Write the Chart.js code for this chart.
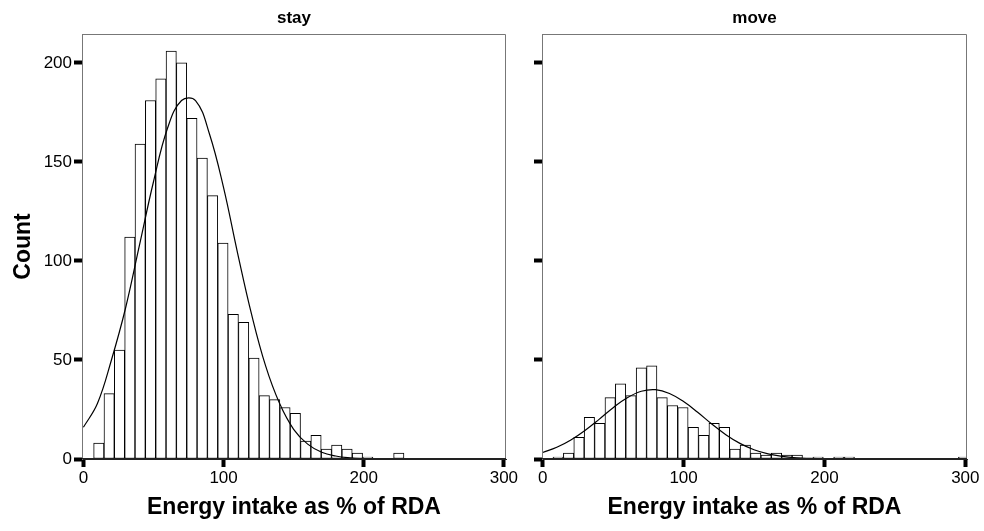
<!DOCTYPE html>
<html>
<head>
<meta charset="utf-8">
<script src="https://cdn.jsdelivr.net/npm/chart.js@4.4.1/dist/chart.umd.min.js"></script>
<style>
    body { margin: 0; background: #fff; width: 984px; height: 531px; overflow: hidden; position: relative; }
    .panel { position: absolute; top: 0; height: 531px; }
    #left { left: 0; width: 520px; }
    #right { left: 520px; width: 464px; }
</style>
</head>
<body>
<div class="panel" id="left"><canvas id="stayChart" width="520" height="531"></canvas></div>
<div class="panel" id="right"><canvas id="moveChart" width="464" height="531"></canvas></div>
<script>
// Histogram bins of energy intake (% of RDA)
const binStart = 7.3;
const binWidth = 7.38;
const stayCounts = [8, 33, 55, 112, 159, 181, 192, 206, 200, 172, 152, 133, 109, 73, 69, 51, 32, 30, 26, 23, 9, 12, 5, 7, 5, 3, 1, 0, 0, 3];
const moveCounts = [1, 3, 11, 21, 18, 31, 38, 32, 46, 47, 31, 27, 26, 16, 12, 18, 16, 5, 7, 3, 2, 3, 2, 2, 0, 1, 0, 1, 1, 0, 0, 0, 0, 0, 0, 0, 0, 0, 0, 1];

// Normal curves, every 10 units
const curveX = [0, 10, 20, 30, 40, 50, 60, 70, 80, 90, 100, 110, 120, 130, 140, 150, 160, 170, 180, 190, 200, 210, 220, 230, 240, 250, 260, 270, 280, 290, 300];
const stayCurve = [16, 28, 50, 76, 108, 140, 167, 181, 181, 164, 137, 104, 73, 47, 28, 15, 7.5, 3.4, 1.5, 0.6, 0.2, 0, 0, 0, 0, 0, 0, 0, 0, 0, 0];
const moveCurve = [3.3, 5.9, 9.6, 14.4, 20, 25.9, 30.9, 34.2, 35, 33.1, 29, 23.6, 17.7, 12.3, 7.9, 4.7, 2.6, 1.3, 0.6, 0.3, 0.1, 0, 0, 0, 0, 0, 0, 0, 0, 0, 0];

const xTicks = [0, 100, 200, 300];
const yTicks = [0, 50, 100, 150, 200];

const FONT = '"Liberation Sans", Arial, Helvetica, sans-serif';

// Draws the grey frame round the plot and the panel title
const framePlugin = {
    id: 'frame',
    afterDraw(chart, args, opts) {
        const { ctx, chartArea: a } = chart;
        ctx.save();
        ctx.strokeStyle = '#777';
        ctx.lineWidth = 1;
        ctx.beginPath();
        ctx.moveTo(a.left + 0.5, a.bottom);
        ctx.lineTo(a.left + 0.5, a.top + 0.5);
        ctx.lineTo(a.right - 0.5, a.top + 0.5);
        ctx.lineTo(a.right - 0.5, a.bottom);
        ctx.stroke();
        ctx.strokeStyle = '#222';
        ctx.beginPath();
        ctx.moveTo(a.left, a.bottom - 0.5);
        ctx.lineTo(a.right, a.bottom - 0.5);
        ctx.stroke();
        ctx.fillStyle = '#000';
        ctx.font = 'bold 17px ' + FONT;
        ctx.textAlign = 'center';
        ctx.textBaseline = 'middle';
        ctx.fillText(opts.text, (a.left + a.right) / 2, 18);
        ctx.restore();
    }
};

function makePanel(canvasId, title, counts, curve, cfg) {
    const bars = counts.map((c, i) => ({ x: binStart + binWidth * (i + 0.5), y: c }));
    const line = curveX.map((x, i) => ({ x: x, y: curve[i] }));

    const ctx = document.getElementById(canvasId).getContext('2d');
    return new Chart(ctx, {
        type: 'bar',
        data: {
            datasets: [{
                type: 'line',
                data: line,
                borderColor: '#000',
                borderWidth: 1.2,
                pointRadius: 0,
                fill: false,
                tension: 0.4
            }, {
                type: 'bar',
                data: bars,
                backgroundColor: '#fff',
                borderColor: '#000',
                borderWidth: 1,
                borderSkipped: false,
                barPercentage: 1,
                categoryPercentage: 1,
                grouped: false
            }]
        },
        plugins: [framePlugin],
        options: {
            responsive: false,
            devicePixelRatio: 1,
            animation: false,
            layout: { padding: { top: 34, right: cfg.padRight, left: 0, bottom: 0 } },
            plugins: {
                legend: { display: false },
                tooltip: { enabled: false },
                frame: { text: title }
            },
            scales: {
                x: {
                    type: 'linear',
                    min: cfg.xMin,
                    max: cfg.xMax,
                    offset: false,
                    afterBuildTicks: axis => { axis.ticks = xTicks.map(v => ({ value: v })); },
                    afterFit: axis => { axis.height = 72; },
                    grid: { offset: false, drawOnChartArea: false, tickLength: 8, tickWidth: 4, tickColor: '#000' },
                    border: { display: true, color: '#222' },
                    ticks: { color: '#000', font: { family: FONT, size: 17 }, padding: 1, maxRotation: 0 },
                    title: {
                        display: true,
                        text: 'Energy intake as % of RDA',
                        color: '#000',
                        font: { family: FONT, size: 23, weight: 'bold' },
                        padding: { top: 4, bottom: 10 }
                    }
                },
                y: {
                    type: 'linear',
                    min: 0,
                    max: 214.6,
                    afterBuildTicks: axis => { axis.ticks = yTicks.map(v => ({ value: v })); },
                    afterFit: axis => { axis.width = cfg.yWidth; },
                    grid: { drawOnChartArea: false, tickLength: 8, tickWidth: 4, tickColor: '#000' },
                    border: { display: true, color: '#777' },
                    ticks: { display: cfg.showY, color: '#000', font: { family: FONT, size: 17 }, padding: 2 },
                    title: {
                        display: cfg.showY,
                        text: 'Count',
                        color: '#000',
                        font: { family: FONT, size: 23, weight: 'bold' },
                        padding: { top: 10, bottom: 4 }
                    }
                }
            }
        }
    });
}

document.addEventListener('DOMContentLoaded', function() {
    makePanel('stayChart', 'stay', stayCounts, stayCurve,
        { xMin: -1, xMax: 301.5, padRight: 14, yWidth: 82, showY: true });
    makePanel('moveChart', 'move', moveCounts, moveCurve,
        { xMin: -0.5, xMax: 301.2, padRight: 17, yWidth: 22, showY: false });
});
</script>
</body>
</html>
